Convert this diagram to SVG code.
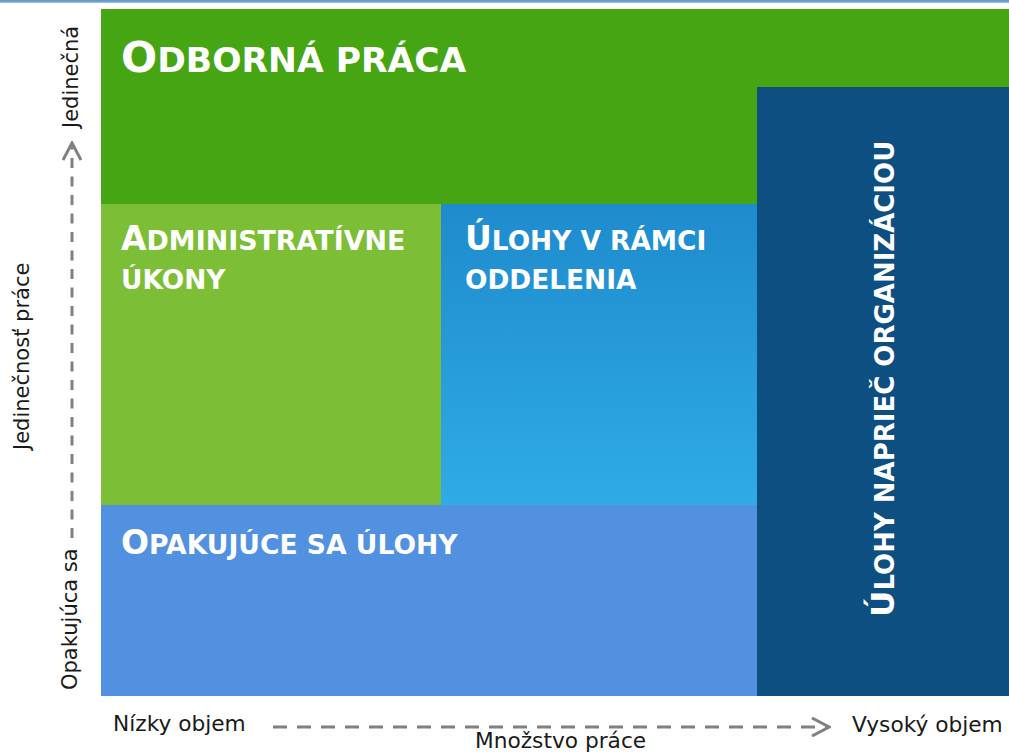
<svg xmlns="http://www.w3.org/2000/svg" width="1009" height="756" viewBox="0 0 1009 756">
  <defs>
    <linearGradient id="gTop" x1="0" y1="0" x2="0" y2="1">
      <stop offset="0" stop-color="#4f8fc2"/>
      <stop offset="1" stop-color="#9cc3e2"/>
    </linearGradient>
    <linearGradient id="gDept" x1="0" y1="0" x2="0" y2="1">
      <stop offset="0" stop-color="#1e8bcd"/>
      <stop offset="1" stop-color="#2fabe7"/>
    </linearGradient>
    <marker id="chev" viewBox="0 0 20 20" refX="18" refY="10" markerWidth="20" markerHeight="20" markerUnits="userSpaceOnUse" orient="auto">
      <path d="M1,1 L18,10 L1,19" fill="none" stroke="#808080" stroke-width="3"/>
    </marker>
    <style>
      .title { font-family: "DejaVu Sans", Verdana, sans-serif; font-weight: bold; fill: #ffffff; font-size: 26.4px; }
      .big { font-size: 33px; }
      .axis { font-family: "DejaVu Sans", Verdana, sans-serif; font-size: 21px; fill: #1a1a1a; }
      .axh { font-size: 21.7px; }
      .dash { fill: none; stroke: #808080; stroke-width: 3; }
    </style>
  </defs>

  <rect x="0" y="0" width="1009" height="3" fill="url(#gTop)"/>

  <g id="odborna-praca">
    <rect x="101" y="9" width="908" height="195" fill="#45a512"/>
    <text class="title" x="121" y="72" style="font-size:34.5px"><tspan style="font-size:42.6px">O</tspan>DBORNÁ PRÁCA</text>
  </g>

  <g id="administrativne-ukony">
    <rect x="101" y="204" width="340" height="301" fill="#7cbf36"/>
    <text class="title" x="121" y="250" style="font-size:26.9px"><tspan class="big">A</tspan>DMINISTRATÍVNE</text>
    <text class="title" x="121" y="289">ÚKONY</text>
  </g>

  <g id="ulohy-v-ramci-oddelenia">
    <rect x="441" y="204" width="316" height="301" fill="url(#gDept)"/>
    <text class="title" x="465" y="250"><tspan class="big">Ú</tspan>LOHY V RÁMCI</text>
    <text class="title" x="465" y="289">ODDELENIA</text>
  </g>

  <g id="opakujuce-sa-ulohy">
    <rect x="101" y="505" width="656" height="191" fill="#5291e0"/>
    <text class="title" x="121" y="554" style="font-size:26.6px"><tspan class="big">O</tspan>PAKUJÚCE SA ÚLOHY</text>
  </g>

  <g id="ulohy-naprieč-organizaciou">
    <rect x="757" y="87" width="252" height="609" fill="#0e4f82"/>
    <text class="title" transform="translate(894,617) rotate(-90)" x="0" y="0" style="font-size:26px"><tspan style="font-size:32.5px">Ú</tspan>LOHY NAPRIEČ ORGANIZÁCIOU</text>
  </g>

  <g id="axis-labels">
    <text class="axis" transform="translate(78,128) rotate(-90)">Jedinečná</text>
    <text class="axis" transform="translate(29,450) rotate(-90)">Jedinečnosť práce</text>
    <text class="axis" transform="translate(77,690) rotate(-90)">Opakujúca sa</text>
    <text class="axis axh" x="113" y="731">Nízky objem</text>
    <text class="axis axh" x="852" y="732">Vysoký objem</text>
    <text class="axis axh" x="475" y="748">Množstvo práce</text>
  </g>

  <g id="connectors">
    <path class="dash" d="M72,538 L72,143" stroke-dasharray="10 8.5" marker-end="url(#chev)"/>
    <path class="dash" d="M273,727 L829,727" stroke-dasharray="14 10" marker-end="url(#chev)"/>
  </g>
</svg>
